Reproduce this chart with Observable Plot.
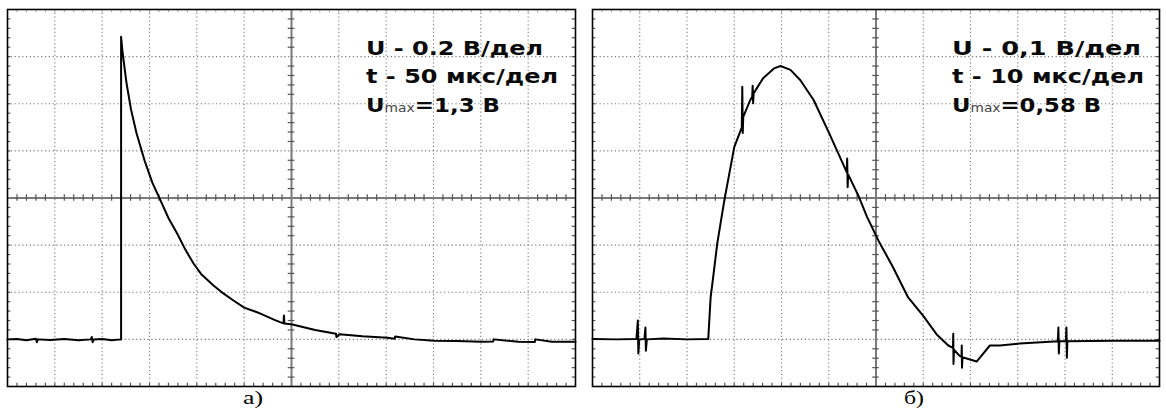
<!DOCTYPE html>
<html><head><meta charset="utf-8">
<script src="https://cdn.jsdelivr.net/npm/d3@7"></script>
<script src="https://cdn.jsdelivr.net/npm/@observablehq/plot@0.6"></script>
<style>
html,body{margin:0;padding:0;background:#fff;}
#wrap{position:relative;width:1166px;height:414px;overflow:hidden;background:#fff;}
.panel{position:absolute;top:0;}
.note{position:absolute;font-family:"DejaVu Sans";font-weight:bold;font-size:19px;color:#0a0a0a;line-height:28.3px;white-space:nowrap;}
.note .row{display:block;}
.note .row span.in{display:inline-block;transform-origin:0 50%;}
.note .sub{font-weight:normal;font-size:11.5px;color:#444;}
.cap{position:absolute;font-family:"Liberation Serif";font-size:19px;color:#000;white-space:nowrap;}
</style></head>
<body><div id="wrap"></div>
<script>
// Panel а): t in µs (50 µs/div), U in V (0.2 V/div)
const tA = [0,10,20,30,31,32,45,60,75,88,89,90,91,100,110,119.5,120,120,121.5,125.7,130.5,136.3,144.7,153.2,161.6,170,179.2,188,196.5,205,217.6,228,238.7,250,263,267.2,282,288,291.6,292,292.5,301,325,347,347.5,350.7,375,401.4,409,409.5,430,451,475,500.7,513,513.5,540,557,557.5,575,600];
const vA = [-0.600,-0.598,-0.604,-0.597,-0.612,-0.600,-0.603,-0.598,-0.604,-0.600,-0.590,-0.612,-0.601,-0.598,-0.604,-0.600,-0.600,0.684,0.620,0.488,0.375,0.275,0.160,0.063,-0.010,-0.085,-0.151,-0.220,-0.278,-0.325,-0.371,-0.405,-0.435,-0.465,-0.484,-0.491,-0.517,-0.527,-0.532,-0.499,-0.533,-0.537,-0.560,-0.576,-0.590,-0.578,-0.587,-0.593,-0.597,-0.588,-0.600,-0.606,-0.607,-0.610,-0.609,-0.600,-0.610,-0.611,-0.600,-0.610,-0.610];
const voltsPerDivA = 0.2, usPerDivA = 50;

// Panel б): t in µs (10 µs/div), U in V (0.1 V/div)
const tB = [0,5,9.3,9.6,9.7,9.9,11.0,11.2,11.3,11.5,15,20,24.5,25.0,25.5,26.4,27.9,30.0,31.6,31.7,31.8,31.9,33.4,33.8,33.9,34.0,34.1,36.1,38.4,39.8,41.9,44.0,46.8,50.1,53.8,53.9,54.0,54.1,56.4,58.1,60.5,63.6,66.8,70.0,72.8,75.3,76.3,76.35,76.4,76.5,77.7,78.1,78.15,78.2,78.3,81.3,82.3,84.1,86.2,90.4,95,98.5,98.6,98.7,98.8,100.2,100.3,100.4,100.5,110,120];
const vB = [-0.299,-0.300,-0.299,-0.260,-0.330,-0.300,-0.299,-0.275,-0.324,-0.300,-0.298,-0.300,-0.299,-0.211,-0.171,-0.097,-0.005,0.108,0.150,0.236,0.138,0.172,0.208,0.215,0.238,0.201,0.222,0.254,0.275,0.280,0.272,0.250,0.208,0.137,0.055,0.084,0.023,0.050,0.002,-0.040,-0.090,-0.147,-0.211,-0.250,-0.289,-0.313,-0.318,-0.288,-0.352,-0.322,-0.335,-0.337,-0.313,-0.360,-0.338,-0.347,-0.335,-0.313,-0.313,-0.309,-0.306,-0.304,-0.275,-0.330,-0.304,-0.304,-0.275,-0.339,-0.304,-0.303,-0.303];
const voltsPerDivB = 0.1, usPerDivB = 10;

const notesA = ["U - 0.2 В/дел", "t - 50 мкс/дел", ["U", "max", "=1,3 В"]];
const notesB = ["U - 0,1 В/дел", "t - 10 мкс/дел", ["U", "max", "=0,58 В"]];
const captions = ["а)", "б)"];

function scope(t, v, usDiv, vDiv, opts) {
  const data = t.map((d, i) => ({t: d, v: v[i]}));
  const xDiv = 6, yDiv = 4;
  const t0 = usDiv * xDiv;
  const xMin = 0, xMax = 2 * t0, yMin = -yDiv * vDiv, yMax = yDiv * vDiv;
  const majorX = d3.range(-xDiv + 1, xDiv).filter(k => k !== 0).map(k => t0 + k * usDiv);
  const majorY = d3.range(-yDiv + 1, yDiv).filter(k => k !== 0).map(k => k * vDiv);
  const minorX = d3.range(-xDiv * 5 + 1, xDiv * 5).filter(k => k % 5 !== 0).map(k => t0 + k * usDiv / 5);
  const minorY = d3.range(-yDiv * 5 + 1, yDiv * 5).filter(k => k % 5 !== 0).map(k => k * vDiv / 5);
  const tl = 0.07;
  const tx = tl * usDiv, ty = tl * vDiv;
  const grey = "#7a7a7a";
  return Plot.plot({
    width: opts.width, height: opts.height,
    marginLeft: opts.ml, marginRight: opts.mr, marginTop: opts.mt, marginBottom: opts.mb,
    x: {domain: [xMin, xMax], axis: null},
    y: {domain: [yMin, yMax], axis: null},
    style: {background: "#fff"},
    marks: [
      Plot.ruleX(majorX, {stroke: grey, strokeWidth: 1.1, strokeDasharray: "1.2,2.6"}),
      Plot.ruleY(majorY, {stroke: grey, strokeWidth: 1.1, strokeDasharray: "1.2,2.6"}),
      Plot.ruleX([t0], {stroke: grey, strokeWidth: 2}),
      Plot.ruleY([0], {stroke: grey, strokeWidth: 2}),
      Plot.ruleX(minorX, {y1: -ty, y2: ty, stroke: "#555", strokeWidth: 1.2}),
      Plot.ruleY(minorY, {x1: t0 - tx, x2: t0 + tx, stroke: "#555", strokeWidth: 1.2}),
      Plot.ruleX(minorX.concat(majorX), {y1: yMin, y2: yMin + ty, stroke: "#555", strokeWidth: 1.2}),
      Plot.ruleX(minorX.concat(majorX), {y1: yMax, y2: yMax - ty, stroke: "#aaa", strokeWidth: 1}),
      Plot.ruleY(minorY.concat(majorY), {x1: xMin, x2: xMin + tx, stroke: "#555", strokeWidth: 1.2}),
      Plot.ruleY(minorY.concat(majorY), {x1: xMax, x2: xMax - tx, stroke: "#555", strokeWidth: 1.2}),
      Plot.line(data, {x: "t", y: "v", stroke: "#000", strokeWidth: 2, strokeLinejoin: "round"}),
      Plot.frame({stroke: "#000", strokeWidth: 1.6})
    ]
  });
}

const wrap = document.getElementById("wrap");
function place(el, left) {
  el.classList.add("panel");
  el.style.left = left + "px";
  wrap.appendChild(el);
}
place(scope(tA, vA, usPerDivA, voltsPerDivA, {width: 580, height: 392, ml: 7, mr: 5, mt: 9, mb: 6}), 0);
place(scope(tB, vB, usPerDivB, voltsPerDivB, {width: 582, height: 392, ml: 8, mr: 7, mt: 9, mb: 6}), 584);

// text in the reference is horizontally stretched; fit each line to its measured width
function note(lines, left, top, widths) {
  const d = document.createElement("div");
  d.className = "note";
  d.style.left = left + "px"; d.style.top = top + "px";
  wrap.appendChild(d);
  lines.forEach((l, i) => {
    const row = document.createElement("div"); row.className = "row";
    const inner = document.createElement("span"); inner.className = "in";
    if (Array.isArray(l)) {
      inner.appendChild(document.createTextNode(l[0]));
      const s = document.createElement("span"); s.className = "sub"; s.textContent = l[1];
      inner.appendChild(s);
      inner.appendChild(document.createTextNode(l[2]));
    } else inner.textContent = l;
    row.appendChild(inner);
    d.appendChild(row);
    const w = inner.getBoundingClientRect().width;
    inner.style.transform = `scaleX(${widths[i] / w})`;
  });
}
note(notesA, 366, 34, [177, 192, 134]);
note(notesB, 952, 34, [189, 192, 149]);

function cap(text, cx) {
  const c = document.createElement("div");
  c.className = "cap"; c.textContent = text;
  c.style.top = "387px";
  wrap.appendChild(c);
  const w = c.getBoundingClientRect().width;
  const s = 20 / w;
  c.style.left = (cx - 10) + "px";
  c.style.transformOrigin = "0 50%";
  c.style.transform = `scaleX(${s})`;
}
cap(captions[0], 253);
cap(captions[1], 914);
</script>
</body></html>
